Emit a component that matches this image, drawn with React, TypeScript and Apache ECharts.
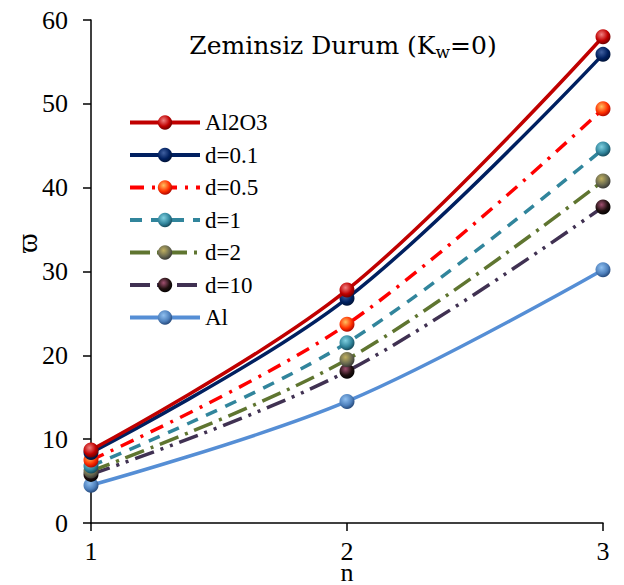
import React, { useEffect, useRef } from "react";
import * as echarts from "echarts";

const nValues = [1, 2, 3];
const seriesNames = ["Al2O3", "d=0.1", "d=0.5", "d=1", "d=2", "d=10", "Al"];
const al2o3 = [8.7, 27.8, 58.0];
const d01 = [8.4, 26.8, 55.9];
const d05 = [7.5, 23.7, 49.4];
const d1 = [6.8, 21.5, 44.6];
const d2 = [6.2, 19.5, 40.8];
const d10 = [5.8, 18.1, 37.7];
const al = [4.5, 14.5, 30.2];
const seriesValues = [al2o3, d01, d05, d1, d2, d10, al];
const lineColors = ["#C00000", "#002060", "#FF0000", "#31859C", "#5F7530", "#403152", "#558ED5"];
const markerColors = [
  ["#F08080", "#C00000", "#600000"],
  ["#4060A0", "#002060", "#001030"],
  ["#FFC060", "#FF3000", "#A00000"],
  ["#80D0E0", "#31859C", "#104050"],
  ["#C0B060", "#6A6A50", "#303030"],
  ["#A05070", "#201010", "#000000"],
  ["#90C0F0", "#4F81BD", "#1F4070"],
];
const dashTypes: any[] = ["solid", "solid", [14, 8, 3, 8], [12, 9], [20, 7, 3, 7], [20, 7, 3, 7, 3, 7], "solid"];

const FONT = "Liberation Serif";
const TITLE_FONT = "DejaVu Serif";

export default function App() {
  const ref = useRef<HTMLDivElement>(null);
  useEffect(() => {
    const chart = echarts.init(ref.current!, null, { renderer: "svg" });
    const series = seriesNames.map((name, i) => ({
      name,
      type: "line",
      smooth: 0.35,
      data: nValues.map((n, j) => [n, seriesValues[i][j]]),
      symbol: "circle",
      symbolSize: 15,
      lineStyle: { color: lineColors[i], width: 3.5, type: dashTypes[i] },
      itemStyle: {
        color: new echarts.graphic.RadialGradient(0.4, 0.35, 0.7, [
          { offset: 0, color: markerColors[i][0] },
          { offset: 0.6, color: markerColors[i][1] },
          { offset: 1, color: markerColors[i][2] },
        ]),
        borderWidth: 0,
      },
      z: 10 - i,
    }));
    chart.setOption({
      animation: false,
      backgroundColor: "#ffffff",
      textStyle: { fontFamily: FONT },
      title: {
        text: "Zeminsiz Durum (K{sub|w}=0)",
        left: 338,
        top: 26,
        textAlign: "center",
        textStyle: {
          fontFamily: TITLE_FONT,
          fontSize: 25,
          fontWeight: "normal",
          color: "#000",
          rich: { sub: { fontSize: 17, verticalAlign: "bottom", padding: [12, 0, 0, 0], fontFamily: TITLE_FONT, color: "#000" } },
        },
      },
      legend: {
        orient: "vertical",
        left: 123,
        top: 106,
        itemWidth: 70,
        itemHeight: 18,
        itemGap: 9.5,
        lineStyle: { width: 4 },
        textStyle: { fontFamily: FONT, fontSize: 23, color: "#000" },
        data: seriesNames,
      },
      grid: { left: 91, right: 21, top: 20, bottom: 62, containLabel: false, outerBoundsMode: "none" },
      xAxis: {
        type: "value",
        min: 1,
        max: 3,
        interval: 1,
        name: "n",
        nameLocation: "middle",
        nameGap: 39,
        nameMoveOverlap: false,
        nameTextStyle: { fontFamily: FONT, fontSize: 26, color: "#000", lineHeight: 20 },
        axisLine: { onZero: false, lineStyle: { color: "#000", width: 1.5 } },
        axisTick: { show: true, length: 8, lineStyle: { color: "#000", width: 1.5 } },
        axisLabel: { fontFamily: FONT, fontSize: 26, color: "#000", margin: 17, lineHeight: 22 },
        splitLine: { show: false },
      },
      yAxis: {
        type: "value",
        min: 0,
        max: 60,
        interval: 10,
        axisLine: { show: true, lineStyle: { color: "#000", width: 1.5 } },
        axisTick: { show: true, length: 8, lineStyle: { color: "#000", width: 1.5 } },
        axisLabel: { fontFamily: FONT, fontSize: 26, color: "#000", margin: 23 },
        splitLine: { show: false },
      },
      graphic: [
        {
          type: "text",
          x: 26,
          y: 243,
          rotation: Math.PI / 2,
          style: {
            text: "ϖ",
            fontFamily: FONT,
            fontSize: 30,
            fill: "#000",
            align: "center",
            verticalAlign: "middle",
          },
        },
      ],
      series,
    });
    return () => chart.dispose();
  }, []);
  return <div ref={ref} style={{ width: 624, height: 585, position: "absolute", left: 0, top: 0 }} />;
}
